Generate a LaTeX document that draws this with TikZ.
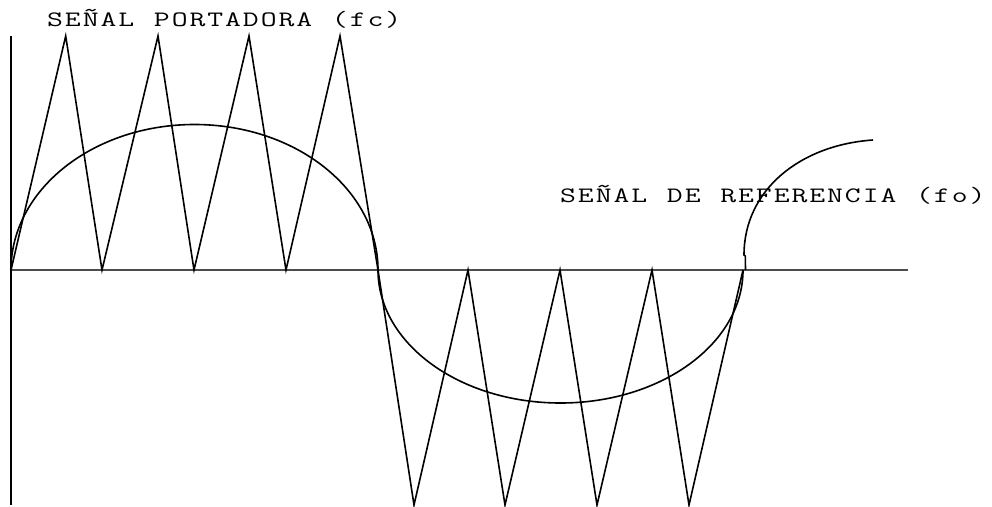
\documentclass[tikz,border=0pt]{standalone}
\usepackage{fontspec}
\usepackage{graphicx}
\tikzset{
  lbl/.style={anchor=base west, inner sep=0pt, font=\ttfamily\fontsize{22}{24}\selectfont},
  wave/.style={line width=1.6pt, black, line join=miter},
  axisline/.style={line width=1.4pt, black!70}
}
\newcommand\ch[1]{\makebox[17.8pt][c]{\scalebox{1.4}[1]{#1}}}
\begin{document}
\begin{tikzpicture}[x=1pt,y=-1pt]
\useasboundingbox (0,0) rectangle (992,506);
% axes
\coordinate (o) at (11,270);
\coordinate (xe) at (908,270);
\coordinate (yt) at (11,36);
\coordinate (yb) at (11,505);
\draw[axisline] (o) -- (xe);
\draw[line width=1.8pt] (yt) -- (yb);
% carrier (triangle wave)
\draw[wave] (o) -- (65.7,36) -- (102,270) -- (158,36) -- (194,270) -- (249,36) -- (286,270) -- (340,36) -- (378,270)
  -- (414,505) -- (468,270) -- (505,505) -- (560,270) -- (597,505) -- (652,270) -- (689,505) -- (743,270);
% reference signal
\draw[wave] (o) arc[start angle=180, end angle=360, x radius=183.5, y radius=145.5];
\draw[wave] (378,270) arc[start angle=180, end angle=0, x radius=182.5, y radius=133];
\draw[wave] (745.5,270) -- (745.3,256) -- (744,255) .. controls (744,190) and (800,145) .. (873,140);
% labels
\node[lbl] (carrier) at (46,27) {\ch S\ch E\ch Ñ\ch A\ch L\ch{}\ch P\ch O\ch R\ch T\ch A\ch D\ch O\ch R\ch A\ch{}\ch (\ch f\ch c\ch )};
\node[lbl] (ref) at (559,202) {\ch S\ch E\ch Ñ\ch A\ch L\ch{}\ch D\ch E\ch{}\ch R\ch E\ch F\ch E\ch R\ch E\ch N\ch C\ch I\ch A\ch{}\ch (\ch f\ch o\ch )};
\end{tikzpicture}
\end{document}
